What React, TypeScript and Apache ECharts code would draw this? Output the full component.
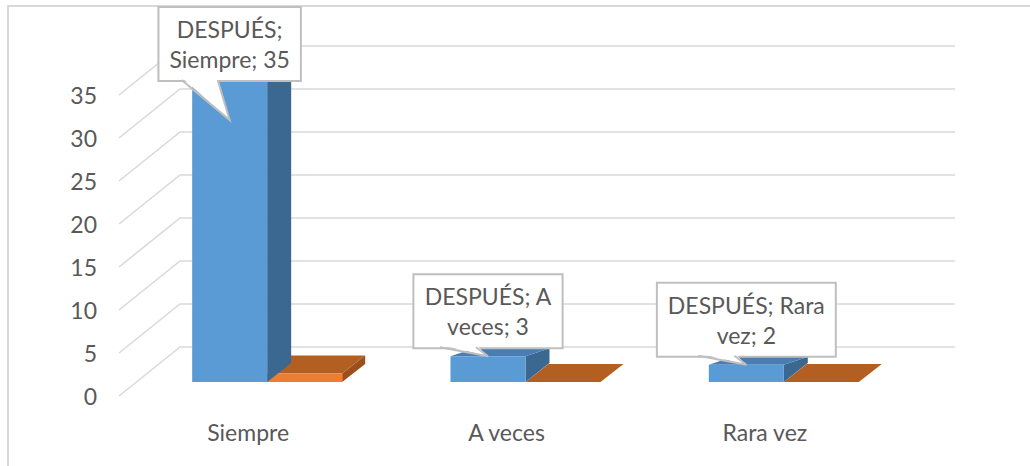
import React, { useEffect, useRef } from "react";
import * as echarts from "echarts";

const categories = ["Siempre", "A veces", "Rara vez"];
const seriesAfterName = "DESPUÉS";
const afterValues = [35, 3, 2];
const seriesBeforeName = "ANTES";
const beforeValues = [1, 0, 0];
const yTicks = [0, 5, 10, 15, 20, 25, 30, 35];

const FONT_FAMILY = "Lato, 'Open Sans', sans-serif";
const TEXT_COLOR = "#595959";
const GRID_COLOR = "#d9d9d9";

const WALL_DX = 61;
const WALL_DY = -49;
const BAR_DY = -14;

function wrap(s: string, max: number): string {
  const words = s.split(" ");
  const lines: string[] = [];
  let cur = "";
  for (const w of words) {
    const t = cur ? cur + " " + w : w;
    if (t.length > max && cur) {
      lines.push(cur);
      cur = w;
    } else cur = t;
  }
  if (cur) lines.push(cur);
  return lines.join("\n");
}

function barRenderer(
  offL: number,
  offR: number,
  dx: number,
  dyTop: number,
  dyBot: number,
  front: string,
  top: string,
  side: string
) {
  return (params: any, api: any) => {
    const idx = api.value(0);
    const v = api.value(1);
    const p0 = api.coord([idx, 0]);
    const pv = api.coord([idx, v]);
    const cx = p0[0];
    const yb = p0[1] + BAR_DY;
    const yt = pv[1] + BAR_DY;
    const L = cx + offL;
    const R = cx + offR;
    const children: any[] = [
      {
        type: "polygon",
        shape: { points: [[R, yt], [R + dx, yt + dyTop], [R + dx, yb + dyBot], [R, yb]] },
        style: { fill: side },
      },
      {
        type: "polygon",
        shape: { points: [[L, yt], [R, yt], [R + dx, yt + dyTop], [L + dx, yt + dyTop]] },
        style: { fill: top },
      },
    ];
    if (yb - yt > 0.5) {
      children.push({
        type: "rect",
        shape: { x: L, y: yt, width: R - L, height: yb - yt },
        style: { fill: front },
      });
    }
    return { type: "group", children, silent: true };
  };
}

export default function App() {
  const ref = useRef<HTMLDivElement>(null);

  useEffect(() => {
    if (!ref.current) return;
    const chart = echarts.init(ref.current, null, { renderer: "svg" });

    const option: any = {
      animation: false,
      backgroundColor: "#ffffff",
      grid: {
        left: 119,
        right: 136,
        top: 95,
        bottom: 70,
        containLabel: false,
        outerBoundsMode: "none",
      },
      xAxis: {
        type: "category",
        data: categories,
        axisLine: { show: false },
        axisTick: { show: false },
        splitLine: { show: false },
        axisLabel: {
          color: TEXT_COLOR,
          fontFamily: FONT_FAMILY,
          fontSize: 23,
          lineHeight: 28,
          margin: 22,
        },
      },
      yAxis: {
        type: "value",
        min: 0,
        max: 35,
        interval: 5,
        axisLine: { show: false },
        axisTick: { show: false },
        splitLine: { show: false },
        axisLabel: {
          color: TEXT_COLOR,
          fontFamily: FONT_FAMILY,
          fontSize: 23,
          margin: 22,
        },
      },
      graphic: [
        {
          type: "rect",
          silent: true,
          shape: { x: 8, y: 6, width: 1100, height: 600 },
          style: { fill: "none", stroke: GRID_COLOR, lineWidth: 2 },
        },
      ],
      series: [
        {
          type: "custom",
          name: "walls",
          z: 1,
          silent: true,
          data: yTicks.map((v) => [0, v]),
          renderItem: (params: any, api: any) => {
            const cs = params.coordSys;
            const y = api.coord([0, api.value(1)])[1];
            const x0 = cs.x;
            const x1 = cs.x + cs.width;
            return {
              type: "polyline",
              shape: {
                points: [
                  [x0, y],
                  [x0 + WALL_DX, y + WALL_DY],
                  [x1 + WALL_DX, y + WALL_DY],
                ],
              },
              style: { stroke: GRID_COLOR, lineWidth: 1.6, fill: null },
            };
          },
        },
        {
          type: "custom",
          name: seriesBeforeName,
          z: 2,
          data: beforeValues.map((v, i) => [i, v]),
          renderItem: barRenderer(19, 94, 23, -18, -18, "#ED7D31", "#B45F22", "#9A4F1C"),
        },
        {
          type: "custom",
          name: seriesAfterName,
          z: 3,
          data: afterValues.map((v, i) => [i, v]),
          renderItem: barRenderer(-56, 19, 24, -8, -19, "#5B9BD5", "#4A7EB2", "#3B6890"),
        },
        {
          type: "custom",
          name: "labels",
          z: 10,
          silent: true,
          data: afterValues.map((v, i) => [i, v]),
          renderItem: (params: any, api: any) => {
            const idx = api.value(0);
            const v = api.value(1);
            const p0 = api.coord([idx, 0]);
            const yt = api.coord([idx, v])[1] + BAR_DY;
            const bx = p0[0] - 18.5;
            const BOX_H = 72;
            const MIN_TOP = 8;
            let bottom = yt - 9;
            let tipY = yt;
            if (bottom - BOX_H < MIN_TOP) {
              bottom = MIN_TOP + BOX_H;
              tipY = bottom + 40;
            }
            const text = wrap(`${seriesAfterName}; ${categories[idx]}; ${v}`, 13);
            return {
              type: "group",
              children: [
                {
                  type: "text",
                  x: bx,
                  y: bottom,
                  style: {
                    text,
                    fill: TEXT_COLOR,
                    fontFamily: FONT_FAMILY,
                    fontSize: 23,
                    lineHeight: 30,
                    align: "center",
                    verticalAlign: "bottom",
                    backgroundColor: "#ffffff",
                    borderColor: "#bfbfbf",
                    borderWidth: 2,
                    padding: [6, 10, 6, 10],
                  },
                },
                {
                  type: "polygon",
                  shape: { points: [[bx - 48, bottom - 2.5], [bx - 12, bottom - 2.5], [bx, tipY]] },
                  style: { fill: "#ffffff" },
                },
                {
                  type: "polyline",
                  shape: { points: [[bx - 48, bottom], [bx, tipY], [bx - 12, bottom]] },
                  style: { stroke: "#bfbfbf", lineWidth: 2, fill: null },
                },
              ],
            };
          },
        },
      ],
    };

    chart.setOption(option);
    return () => chart.dispose();
  }, []);

  return (
    <div
      ref={ref}
      style={{ position: "absolute", left: 0, top: 0, width: 1030, height: 466, background: "#fff" }}
    />
  );
}
